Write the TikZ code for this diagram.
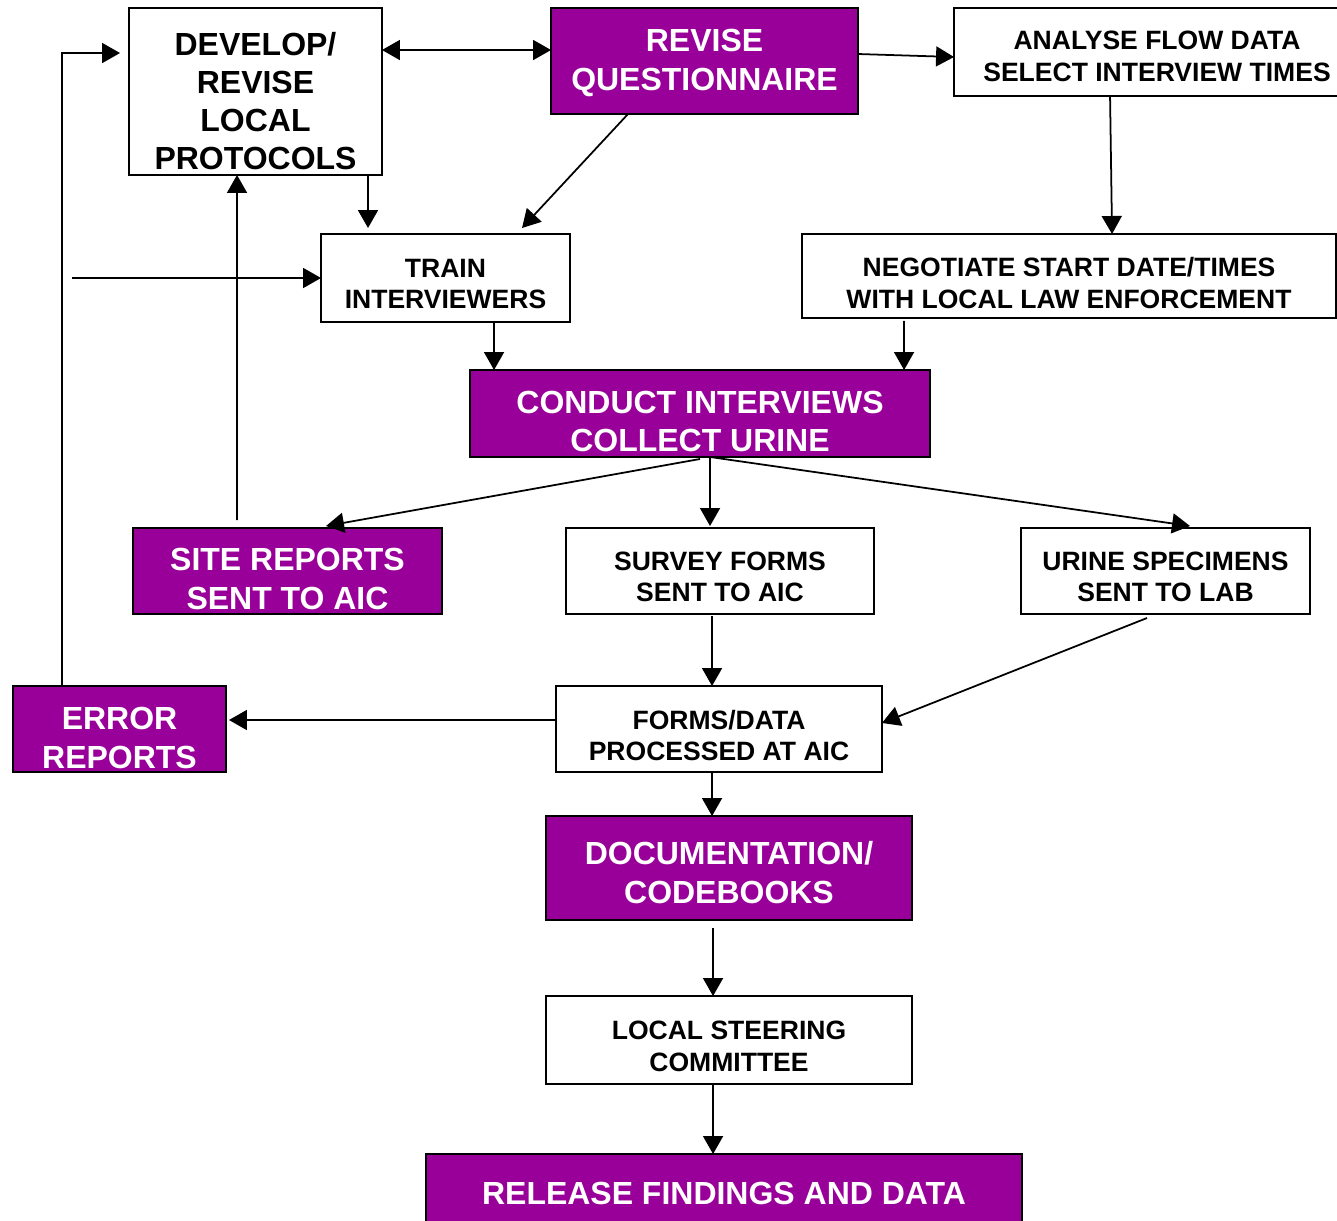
\documentclass[tikz,border=0pt]{standalone}
\usepackage{fontspec}
\setmainfont{Liberation Sans}
\usetikzlibrary{arrows.meta,calc}

\definecolor{plum}{HTML}{990099}
% push the text of a box down by half the given length
\newcommand{\sink}[1]{\rule{0pt}{\dimexpr\fontcharht\font`T+#1\relax}}

\tikzset{
  box/.style={draw, line width=1pt, inner sep=0pt, outer sep=0pt, align=center,
    font=\fontsize{15.1}{18.2}\selectfont\bfseries},
  wbox/.style={box, fill=white},
  pbox/.style={box, fill=plum, text=white,
    font=\fontsize{18.2}{21.8}\selectfont\bfseries},
  big/.style={font=\fontsize{18.2}{21.6}\selectfont\bfseries},
  arr/.style={line width=1pt, ->},
}

\begin{document}
\begin{tikzpicture}[x=0.02cm, y=-0.02cm,
    >={Triangle[length=0.36cm,width=0.4cm]}]
  \useasboundingbox (0,0) rectangle (1337,1220);

  % top row
  \node[wbox, big, minimum width=5.06cm, minimum height=3.34cm] (develop)
    at (255.5,91.5) {\sink{0.40cm}DEVELOP/\\REVISE\\LOCAL\\PROTOCOLS};
  \node[pbox, minimum width=6.14cm, minimum height=2.12cm] (revise)
    at (704.5,61) {\sink{0.08cm}REVISE\\QUESTIONNAIRE};
  \node[wbox, minimum width=8.12cm, minimum height=1.76cm] (analyse)
    at (1157,52) {\sink{0.18cm}ANALYSE FLOW DATA\\SELECT INTERVIEW TIMES};

  % second row
  \node[wbox, minimum width=4.98cm, minimum height=1.76cm] (train)
    at (445.5,278) {\sink{0.24cm}TRAIN\\INTERVIEWERS};
  \node[wbox, minimum width=10.68cm, minimum height=1.68cm] (negotiate)
    at (1069,276) {\sink{0.30cm}NEGOTIATE START DATE/TIMES\\WITH LOCAL LAW ENFORCEMENT};

  \node[pbox, minimum width=9.2cm, minimum height=1.74cm] (conduct)
    at (700,413.5) {\sink{0.32cm}CONDUCT INTERVIEWS\\COLLECT URINE};

  % what is sent on
  \node[pbox, minimum width=6.18cm, minimum height=1.72cm] (site)
    at (287.5,571) {\sink{0.32cm}SITE REPORTS\\SENT TO AIC};
  \node[wbox, minimum width=6.16cm, minimum height=1.72cm] (survey)
    at (720,571) {\sink{0.24cm}SURVEY FORMS\\SENT TO AIC};
  \node[wbox, minimum width=5.78cm, minimum height=1.72cm] (urine)
    at (1165.5,571) {\sink{0.24cm}URINE SPECIMENS\\SENT TO LAB};

  \node[pbox, minimum width=4.26cm, minimum height=1.72cm] (error)
    at (119.5,729) {\sink{0.36cm}ERROR\\REPORTS};
  \node[wbox, minimum width=6.52cm, minimum height=1.72cm] (forms)
    at (719,729) {\sink{0.28cm}FORMS/DATA\\PROCESSED AT AIC};

  % bottom column
  \node[pbox, minimum width=7.32cm, minimum height=2.08cm] (docu)
    at (729,868) {\sink{0.20cm}DOCUMENTATION/\\CODEBOOKS};
  \node[wbox, minimum width=7.32cm, minimum height=1.76cm] (steering)
    at (729,1040) {\sink{0.24cm}LOCAL STEERING\\COMMITTEE};
  \node[pbox, minimum width=11.92cm, minimum height=1.56cm] (release)
    at (724,1193) {RELEASE FINDINGS AND DATA};

  \coordinate (feed) at (72,278);

  % connectors
  \draw[line width=1pt, <->] ($(develop.north east)+(0,42)$) -- ($(revise.north west)+(0,42)$);
  \draw[arr] ($(revise.north east)+(0,46)$) -- ($(analyse.north west)+(0,49)$);
  \draw[arr] ($(analyse.south west)+(156,0)$) -- ($(negotiate.north west)+(310,0)$);
  \draw[arr] ($(revise.south west)+(77,0)$) -- ($(train.north west)+(201,-6)$);
  \draw[arr] ($(develop.south east)+(-14,0)$) -- ($(train.north west)+(47,-6)$);
  \draw[arr] ($(site.north west)+(104,-8)$) -- ($(develop.south west)+(108,0)$);
  \draw[arr] ($(error.north west)+(49,0)$) |- ($(develop.north west)+(-9,45)$);
  \draw[arr] (feed) -- (train.west);
  \draw[arr] ($(train.south west)+(173,0)$) -- ($(conduct.north west)+(24,0)$);
  \draw[arr] ($(negotiate.south west)+(102,3)$) -- ($(conduct.north west)+(434,0)$);

  \draw[arr] ($(conduct.south)+(0,2)$) -- ($(site.north west)+(193,-2)$);
  \draw[arr] ($(conduct.south)+(10,0)$) -- ($(survey.north west)+(144,-2)$);
  \draw[arr] ($(conduct.south)+(10,0)$) -- ($(urine.north west)+(169,-2)$);

  \draw[arr] ($(survey.south west)+(146,2)$) -- ($(forms.north west)+(156,0)$);
  \draw[arr] ($(urine.south west)+(126,4)$) -- ($(forms.east)+(0,-6)$);
  \draw[arr] ($(forms.west)+(0,-9)$) -- ($(error.east)+(3,-9)$);

  \draw[arr] ($(forms.south west)+(156,0)$) -- ($(docu.north west)+(166,0)$);
  \draw[arr] ($(docu.south west)+(167,8)$) -- ($(steering.north west)+(167,0)$);
  \draw[arr] ($(steering.south west)+(167,0)$) -- ($(release.north west)+(287,0)$);
\end{tikzpicture}
\end{document}
